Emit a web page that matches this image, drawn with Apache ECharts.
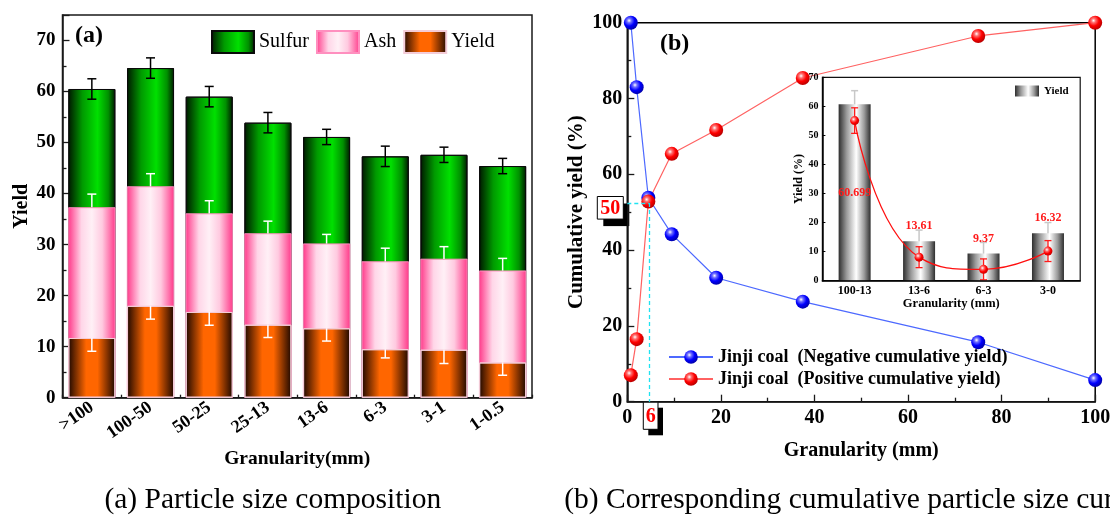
<!DOCTYPE html>
<html>
<head>
<meta charset="utf-8">
<script src="https://cdn.jsdelivr.net/npm/echarts@6/dist/echarts.min.js"></script>
<style>
  html, body { margin: 0; padding: 0; background: #fff; }
  #chart { width: 1110px; height: 518px; }
</style>
</head>
<body>
<div id="chart"></div>
<script>
const SERIF = '"Liberation Serif", "Times New Roman", serif';

// ---- (a) particle size composition ----
const sizeClasses = ['>100', '100-50', '50-25', '25-13', '13-6', '6-3', '3-1', '1-0.5'];
const sulfurVals = [60.5, 64.6, 59.0, 53.9, 51.1, 47.3, 47.6, 45.4];
const sulfurErr  = [2.0, 2.0, 2.0, 2.0, 1.5, 2.0, 1.5, 1.5];
const ashVals    = [37.3, 41.4, 36.1, 32.2, 30.2, 26.7, 27.2, 24.9];
const ashErr     = [2.6, 2.5, 2.5, 2.4, 1.8, 2.6, 2.4, 2.4];
const yieldVals  = [11.7, 18.0, 16.8, 14.3, 13.6, 9.5, 9.4, 6.9];
const yieldErr   = [2.6, 2.6, 2.6, 2.5, 2.5, 1.7, 2.7, 2.5];

// ---- (b) cumulative curves ----
const sizePoints  = [0.75, 2, 4.5, 9.5, 19, 37.5, 75, 100];
const negativeCum = [100, 83.0, 53.8, 44.2, 32.7, 26.4, 15.7, 5.7];
const positiveCum = [7.0, 16.5, 52.8, 65.4, 71.7, 85.4, 96.5, 100];
const negName = 'Jinji coal  (Negative cumulative yield)';
const posName = 'Jinji coal  (Positive cumulative yield)';
const crossSize = 4.7;
const crossYield = 52.4;
const crossYieldText = '50';
const crossSizeText = '6';

// ---- inset: yield by coarse fraction ----
const insetClasses  = ['100-13', '13-6', '6-3', '3-0'];
const insetYield    = [60.699, 13.61, 9.37, 16.32];
const insetYieldErr = [4.7, 3.8, 3.8, 3.7];
const insetMean     = [55.1, 8.1, 3.9, 10.2];
const insetMeanErr  = [4.4, 3.6, 3.6, 3.6];

const hGrad = stops => new echarts.graphic.LinearGradient(0, 0, 1, 0,
  stops.map(([offset, color]) => ({ offset, color })));
const sphere = stops => new echarts.graphic.RadialGradient(0.38, 0.35, 0.7,
  stops.map(([offset, color]) => ({ offset, color })));

const greenFill  = hGrad([[0, '#001800'], [0.3, '#009a00'], [0.62, '#00e000'], [0.85, '#009000'], [1, '#001800']]);
const pinkFill   = hGrad([[0, '#ff3a8a'], [0.28, '#ffd6e8'], [0.5, '#fff0f6'], [0.72, '#ffcae0'], [1, '#ff3a8a']]);
const orangeFill = hGrad([[0, '#1e0800'], [0.38, '#ff6600'], [0.62, '#ff6600'], [1, '#1e0800']]);
const greyFill   = hGrad([[0, '#2e2e2e'], [0.25, '#9a9a9a'], [0.55, '#ffffff'], [0.8, '#9a9a9a'], [1, '#2e2e2e']]);
const redBall  = sphere([[0, '#ffffff'], [0.22, '#ff7070'], [0.55, '#ff0000'], [1, '#b00000']]);
const blueBall = sphere([[0, '#ffffff'], [0.22, '#7070ff'], [0.55, '#0000ff'], [1, '#0000a0']]);

const boldText = (size, extra) => Object.assign({ fontFamily: SERIF, fontWeight: 'bold', fontSize: size, color: '#000' }, extra || {});

// vertical error bar with caps, drawn through the axes' own scales;
// side: 'both' | 'up' | 'down'
function errorBars(xIdx, yIdx, rows, color, cap, width, z, side) {
  side = side || 'both';
  return {
    type: 'custom',
    xAxisIndex: xIdx,
    yAxisIndex: yIdx,
    z: z,
    silent: true,
    encode: { x: 0, y: 1 },
    data: rows,
    renderItem: function (params, api) {
      const x = api.value(0), y = api.value(1), e = api.value(2);
      const mid = api.coord([x, y]);
      const hi = side === 'down' ? mid : api.coord([x, y + e]);
      const lo = side === 'up' ? mid : api.coord([x, y - e]);
      const h = cap / 2;
      const style = { stroke: color, lineWidth: width };
      const parts = [
        { type: 'line', shape: { x1: hi[0], y1: hi[1], x2: lo[0], y2: lo[1] }, style: style }
      ];
      if (side !== 'down') {
        parts.push({ type: 'line', shape: { x1: hi[0] - h, y1: hi[1], x2: hi[0] + h, y2: hi[1] }, style: style });
      }
      if (side !== 'up') {
        parts.push({ type: 'line', shape: { x1: lo[0] - h, y1: lo[1], x2: lo[0] + h, y2: lo[1] }, style: style });
      }
      return { type: 'group', children: parts };
    }
  };
}
const rowsOf = (vals, errs) => vals.map((v, i) => [i, v, errs[i]]);

const axisLineStyle = { color: '#1a1a1a', width: 1.5 };
const tickStyle = { color: '#1a1a1a', width: 1.3 };

const option = {
  animation: false,
  backgroundColor: '#ffffff',
  grid: [
    { left: 62.5, top: 15, width: 469.5, height: 382.7, show: true, borderColor: '#1a1a1a', borderWidth: 1.5,
      backgroundColor: 'transparent', containLabel: false, outerBoundsMode: 'none' },
    { left: 627.3, top: 22.7, width: 467.9, height: 379, show: true, borderColor: '#000', borderWidth: 1.5,
      backgroundColor: 'transparent', containLabel: false, outerBoundsMode: 'none' },
    { left: 822.4, top: 77.3, width: 257.8, height: 203.4, show: true, borderColor: '#111', borderWidth: 1.2,
      backgroundColor: '#ffffff', containLabel: false, outerBoundsMode: 'none', z: 9 }
  ],
  legend: [
    { data: ['Sulfur', 'Ash', 'Yield'], left: 211, top: 30, padding: 0, itemWidth: 42, itemHeight: 22, itemGap: 7,
      icon: 'rect', selectedMode: false, textStyle: { fontFamily: SERIF, fontSize: 20, color: '#000' } },
    { data: [negName, posName], orient: 'vertical', left: 668, top: 348, padding: 0, itemWidth: 44, itemHeight: 17,
      itemGap: 4, selectedMode: false, textStyle: boldText(18) },
    { data: ['Fraction yield'], left: 1015, top: 85.5, padding: 0, itemWidth: 24, itemHeight: 11, icon: 'rect',
      selectedMode: false, formatter: () => 'Yield', textStyle: boldText(11), z: 15 }
  ],
  xAxis: [
    { type: 'category', gridIndex: 0, data: sizeClasses, boundaryGap: true,
      name: 'Granularity(mm)', nameLocation: 'middle', nameGap: 45, nameTextStyle: boldText(19.5),
      axisLine: { show: true, lineStyle: axisLineStyle },
      axisTick: { show: true, inside: true, alignWithLabel: true, length: 7, lineStyle: tickStyle },
      axisLabel: { interval: 0, rotate: 35, margin: 8, fontFamily: SERIF, fontWeight: 'bold', fontSize: 18, color: '#000' },
      splitLine: { show: false } },
    { type: 'value', gridIndex: 0, min: 0, max: 8, interval: 1, position: 'bottom',
      axisLine: { show: false }, axisLabel: { show: false }, splitLine: { show: false },
      axisTick: { show: true, inside: true, length: 3, lineStyle: tickStyle } },
    { type: 'value', gridIndex: 1, min: 0, max: 100, interval: 20,
      name: 'Granularity (mm)', nameLocation: 'middle', nameGap: 39, nameTextStyle: boldText(20),
      axisLine: { show: true, lineStyle: axisLineStyle },
      axisTick: { show: true, inside: true, length: 7, lineStyle: tickStyle },
      minorTick: { show: true, splitNumber: 2, length: 4, lineStyle: tickStyle },
      axisLabel: { margin: 6, fontFamily: SERIF, fontWeight: 'bold', fontSize: 20, color: '#000' },
      splitLine: { show: false }, minorSplitLine: { show: false } },
    { type: 'category', gridIndex: 2, data: insetClasses, boundaryGap: true, z: 14,
      name: 'Granularity (mm)', nameLocation: 'middle', nameGap: 17, nameTextStyle: boldText(12.5),
      axisLine: { show: true, lineStyle: { color: '#000', width: 1.5 } },
      axisTick: { show: false },
      axisLabel: { interval: 0, margin: 4, fontFamily: SERIF, fontWeight: 'bold', fontSize: 12, color: '#000' },
      splitLine: { show: false } }
  ],
  yAxis: [
    { type: 'value', gridIndex: 0, min: 0, max: 75, interval: 10,
      name: 'Yield', nameLocation: 'middle', nameGap: 31, nameTextStyle: boldText(20),
      axisLine: { show: true, lineStyle: axisLineStyle },
      axisTick: { show: true, inside: true, length: 7, lineStyle: tickStyle },
      minorTick: { show: true, splitNumber: 2, length: 4, lineStyle: tickStyle },
      axisLabel: { margin: 7, showMaxLabel: false, fontFamily: SERIF, fontWeight: 'bold', fontSize: 19, color: '#000',
        formatter: v => (v % 10 === 0 ? String(v) : '') },
      splitLine: { show: false }, minorSplitLine: { show: false } },
    { type: 'value', gridIndex: 1, min: 0, max: 100, interval: 20,
      name: 'Cumulative yield (%)', nameLocation: 'middle', nameGap: 40, nameTextStyle: boldText(21),
      axisLine: { show: true, lineStyle: axisLineStyle },
      axisTick: { show: true, inside: true, length: 7, lineStyle: tickStyle },
      minorTick: { show: true, splitNumber: 2, length: 4, lineStyle: tickStyle },
      axisLabel: { margin: 5, fontFamily: SERIF, fontWeight: 'bold', fontSize: 20, color: '#000' },
      splitLine: { show: false }, minorSplitLine: { show: false } },
    { type: 'value', gridIndex: 2, min: 0, max: 70, interval: 10, z: 14,
      name: 'Yield (%)', nameLocation: 'middle', nameGap: 16, nameTextStyle: boldText(12),
      axisLine: { show: true, lineStyle: { color: '#000', width: 1.5 } },
      axisTick: { show: true, inside: true, length: 3, lineStyle: { color: '#000', width: 1 } },
      axisLabel: { margin: 4, fontFamily: SERIF, fontWeight: 'bold', fontSize: 10, color: '#000' },
      splitLine: { show: false } }
  ],
  series: [
    // (a) overlapping columns, back to front
    { name: 'Sulfur', type: 'bar', xAxisIndex: 0, yAxisIndex: 0, data: sulfurVals, barWidth: 47, barGap: '-100%', z: 2,
      itemStyle: { color: greenFill, borderColor: '#0a0a0a', borderWidth: 1 }, emphasis: { disabled: true } },
    { name: 'Ash', type: 'bar', xAxisIndex: 0, yAxisIndex: 0, data: ashVals, barWidth: 47, barGap: '-100%', z: 2,
      itemStyle: { color: pinkFill, borderColor: '#ff8fbf', borderWidth: 0.6 }, emphasis: { disabled: true } },
    { name: 'Yield', type: 'bar', xAxisIndex: 0, yAxisIndex: 0, data: yieldVals, barWidth: 47, barGap: '-100%', z: 2,
      itemStyle: { color: orangeFill, borderColor: '#f4ccd8', borderWidth: 1 }, emphasis: { disabled: true } },
    errorBars(0, 0, rowsOf(sulfurVals, sulfurErr), '#000000', 9, 1.5, 4, 'both'),
    errorBars(0, 0, rowsOf(ashVals, ashErr), '#ffffff', 9, 1.5, 4, 'up'),
    errorBars(0, 0, rowsOf(yieldVals, yieldErr), '#ffffff', 9, 1.5, 4, 'down'),

    // (b) cumulative curves
    { name: negName, type: 'line', xAxisIndex: 2, yAxisIndex: 1, z: 3,
      data: sizePoints.map((x, i) => [x, negativeCum[i]]),
      symbol: 'circle', symbolSize: 14, lineStyle: { color: '#4d69ff', width: 1.2 },
      itemStyle: { color: blueBall }, emphasis: { disabled: true } },
    { name: posName, type: 'line', xAxisIndex: 2, yAxisIndex: 1, z: 3,
      data: sizePoints.map((x, i) => [x, positiveCum[i]]),
      symbol: 'circle', symbolSize: 14, lineStyle: { color: '#ff6262', width: 1.2 },
      itemStyle: { color: redBall }, emphasis: { disabled: true },
      markLine: {
        silent: true, symbol: ['none', 'none'], label: { show: false }, emphasis: { disabled: true },
        lineStyle: { color: '#1fe3f2', type: [4, 3], width: 1.3 },
        data: [
          [{ coord: [0, crossYield] }, { coord: [crossSize, crossYield] }],
          [{ coord: [crossSize, crossYield] }, { coord: [crossSize, 0] }]
        ]
      } },

    // inset: columns with error bars and fitted mean curve
    errorBars(3, 2, rowsOf(insetYield, insetYieldErr), '#c8c8c8', 7, 1.5, 10, 'both'),
    { name: 'Fraction yield', type: 'bar', xAxisIndex: 3, yAxisIndex: 2, barWidth: 32, z: 11,
      data: insetYield.map((v, i) => ({
        value: v,
        label: i === 0 ? { position: 'inside' } : { position: 'top', distance: 9 }
      })),
      itemStyle: { color: greyFill }, emphasis: { disabled: true },
      label: { show: true, fontFamily: SERIF, fontWeight: 'bold', fontSize: 12, color: '#ff1a1a',
        formatter: p => String(p.value) } },
    errorBars(3, 2, rowsOf(insetMean, insetMeanErr), '#ff1a1a', 7, 1.3, 12, 'both'),
    { name: 'Mean yield', type: 'line', xAxisIndex: 3, yAxisIndex: 2, z: 13, smooth: 0.5,
      data: insetMean, symbol: 'circle', symbolSize: 9,
      lineStyle: { color: '#ff1010', width: 1.3 },
      itemStyle: { color: sphere([[0, '#ffffff'], [0.3, '#ff6060'], [0.6, '#ff0000'], [1, '#c00000']]) },
      emphasis: { disabled: true } }
  ]
};

const chart = echarts.init(document.getElementById('chart'), null, { renderer: 'canvas' });
chart.setOption(option);

// annotation boxes anchored to the crossing of the two cumulative curves
const pYield = chart.convertToPixel({ gridIndex: 1 }, [0, crossYield]);
const pSize = chart.convertToPixel({ gridIndex: 1 }, [crossSize, 0]);

function shadowBox(x, y, w, h, dx, dy, text) {
  return {
    type: 'group',
    z: 20,
    children: [
      { type: 'rect', shape: { x: x + dx, y: y + dy, width: w, height: h }, style: { fill: '#000' } },
      { type: 'rect', shape: { x: x, y: y, width: w, height: h }, style: { fill: '#fff', stroke: '#000', lineWidth: 1 } },
      { type: 'text', x: x + w / 2, y: y + h / 2 + 1,
        style: { text: text, fill: '#ff0000', font: 'bold 20px ' + SERIF, align: 'center', verticalAlign: 'middle' } }
    ]
  };
}

chart.setOption({
  graphic: [
    { type: 'text', left: 75, top: 24, z: 20,
      style: { text: '(a)', font: 'bold 24px ' + SERIF, fill: '#000' } },
    { type: 'text', left: 660, top: 32, z: 20,
      style: { text: '(b)', font: 'bold 24px ' + SERIF, fill: '#000' } },
    shadowBox(pYield[0] - 30, pYield[1] - 6.6, 26, 22.6, 6, 7, crossYieldText),
    shadowBox(pSize[0] - 6, pSize[1], 14.7, 27.6, 5, 6, crossSizeText),
    { type: 'text', x: 272.8, y: 500.5, z: 20,
      style: { text: '(a) Particle size composition', font: '29.5px ' + SERIF, fill: '#000',
        align: 'center', verticalAlign: 'middle' } },
    { type: 'text', x: 564.2, y: 500.5, z: 20,
      style: { text: '(b) Corresponding cumulative particle size curve', font: '29.5px ' + SERIF, fill: '#000',
        align: 'left', verticalAlign: 'middle' } }
  ]
});
</script>
</body>
</html>
